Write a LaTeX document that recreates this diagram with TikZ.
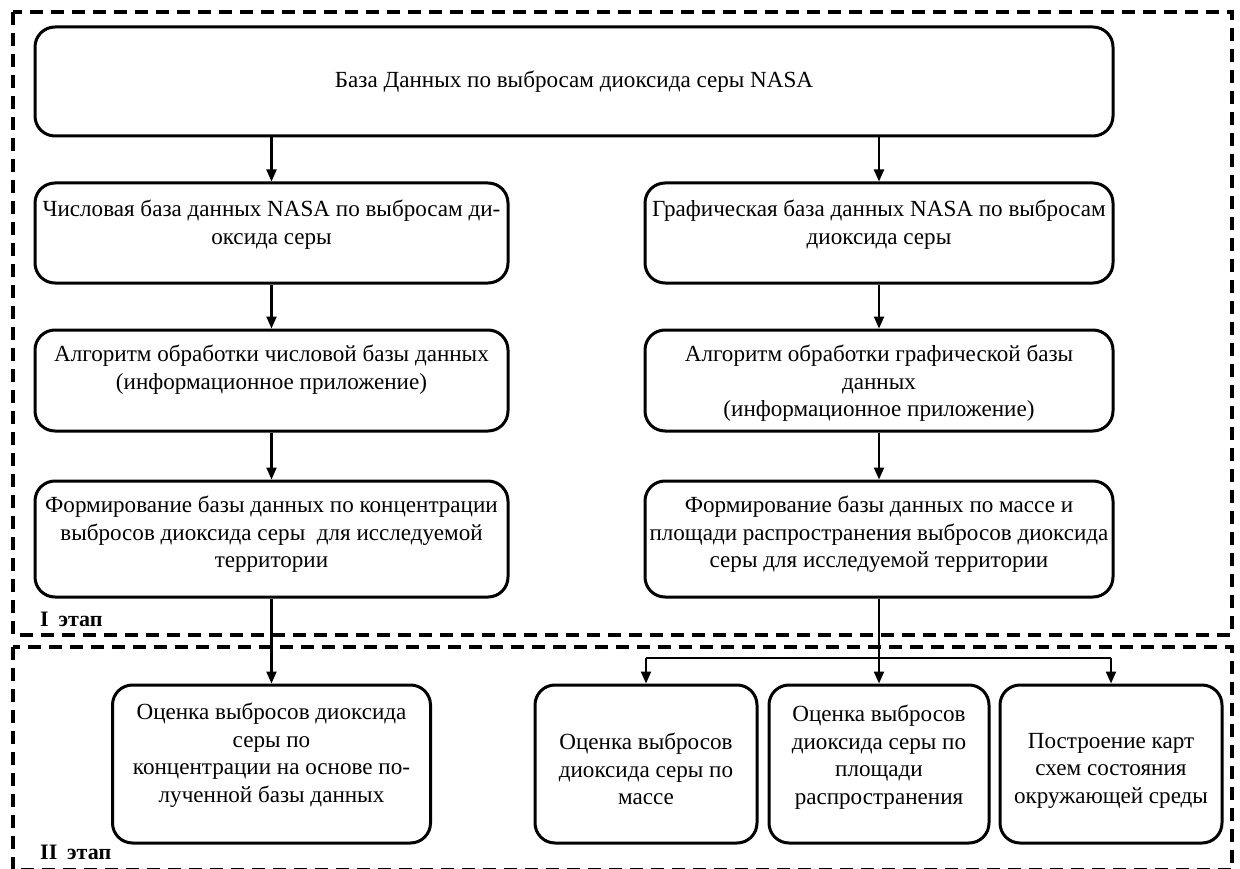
\documentclass[tikz,border=0pt]{standalone}
\usepackage{fontspec}
\setmainfont{Liberation Serif}
\usetikzlibrary{arrows.meta,calc}

\begin{document}
\begin{tikzpicture}[x=1pt,y=-1pt,
  stage/.style={line width=3.8pt, dash pattern=on 13pt off 8pt},
  blk/.style={draw, line width=3pt, rounded corners=20pt, inner sep=0pt},
  txt/.style={align=center, inner sep=0pt, anchor=north,
              font=\fontsize{23.1}{27.6}\selectfont},
  arr/.style={line width=2.2pt, -{Triangle[length=12pt,width=10pt]}},
  link/.style={line width=2.2pt},
  lbl/.style={anchor=base west, inner sep=0pt,
              font=\fontsize{22}{26}\selectfont\bfseries}]

\useasboundingbox (0,0) rectangle (1240,869);

% stage frames
\draw[stage] (13,12) rectangle (1232,635);
\draw[stage] (13,647) rectangle (1232,870);
\node[lbl] (st1) at (40,626) {I\hspace{0.45em}этап};
\node[lbl] (st2) at (40,859) {II\hspace{0.45em}этап};

% source database
\node[blk, minimum width=1078pt, minimum height=109pt] (top) at (574,81.5) {};
\node[txt, anchor=center] (ttop) at (top) {База Данных по выбросам диоксида серы NASA};

% left branch: numeric data
\node[blk, minimum width=473pt, minimum height=100pt] (b2l) at (271.5,233) {};
\node[txt] (t2l) at (271.5,200) {Числовая база данных NASA по выбросам ди-\\оксида серы};
\node[blk, minimum width=473pt, minimum height=101pt] (b3l) at (271.5,380.5) {};
\node[txt] (t3l) at (271.5,345) {Алгоритм обработки числовой базы данных\\(информационное приложение)};
\node[blk, minimum width=473pt, minimum height=116pt] (b4l) at (271.5,539) {};
\node[txt] (t4l) at (271.5,496) {Формирование базы данных по концентрации\\выбросов диоксида серы\ \ для исследуемой\\территории};

% right branch: graphic data
\node[blk, minimum width=468pt, minimum height=100pt] (b2r) at (879,233) {};
\node[txt] (t2r) at (879,200) {Графическая база данных NASA по выбросам\\диоксида серы};
\node[blk, minimum width=468pt, minimum height=101pt] (b3r) at (879,380.5) {};
\node[txt] (t3r) at (879,345) {Алгоритм обработки графической базы\\данных\\(информационное приложение)};
\node[blk, minimum width=468pt, minimum height=116pt] (b4r) at (879,539) {};
\node[txt] (t4r) at (879,496) {Формирование базы данных по массе и\\площади распространения выбросов диоксида\\серы для исследуемой территории};

% stage II results
\node[blk, minimum width=318pt, minimum height=158pt] (b0) at (271.5,764) {};
\node[txt] (t0) at (271.5,703) {Оценка выбросов диоксида\\серы по\\концентрации на основе по-\\лученной базы данных};
\node[blk, minimum width=222pt, minimum height=158pt] (b1) at (646,764) {};
\node[txt] (t1) at (646,733) {Оценка выбросов\\диоксида серы по\\массе};
\node[blk, minimum width=220pt, minimum height=158pt] (b2) at (879,764) {};
\node[txt] (t2) at (879,705) {Оценка выбросов\\диоксида серы по\\площади\\распространения};
\node[blk, minimum width=222pt, minimum height=158pt] (b3) at (1111,764) {};
\node[txt] (t3) at (1111,733) {Построение карт\\схем состояния\\окружающей среды};

% connectors
\draw[arr] (b2l.north |- top.south) -- (b2l.north);
\draw[arr] (b2r.north |- top.south) -- (b2r.north);
\draw[arr] (b2l.south) -- (b3l.north);
\draw[arr] (b3l.south) -- (b4l.north);
\draw[arr] (b2r.south) -- (b3r.north);
\draw[arr] (b3r.south) -- (b4r.north);
\draw[arr] (b4l.south) -- (b0.north);
\draw[arr] (b4r.south) -- (b2.north);
\coordinate (fork) at (879,658);
\draw[link] (b1.north |- fork) -- (b3.north |- fork);
\draw[arr] (b1.north |- fork) -- (b1.north);
\draw[arr] (b3.north |- fork) -- (b3.north);
\end{tikzpicture}
\end{document}
